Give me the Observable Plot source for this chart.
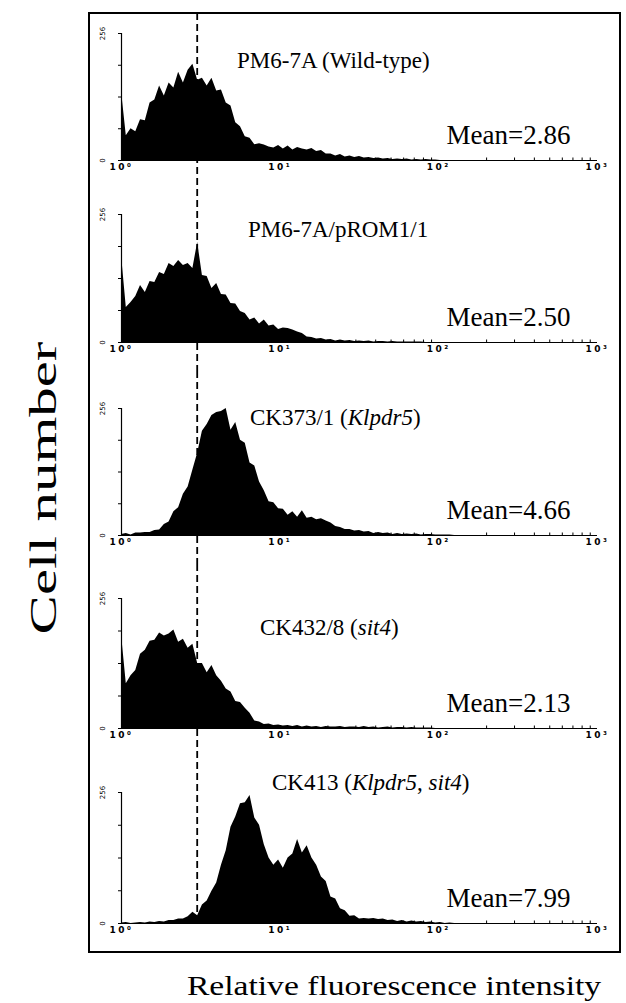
<!DOCTYPE html>
<html>
<head>
<meta charset="utf-8">
<script src="https://cdn.jsdelivr.net/npm/d3@7"></script>
<script src="https://cdn.jsdelivr.net/npm/@observablehq/plot@0.6"></script>
<style>
html, body { margin: 0; padding: 0; background: #fff; }
#wrap { position: relative; width: 626px; height: 1003px; overflow: hidden; font-family: "Liberation Serif", "Times New Roman", serif; color: #000; }
.panel { position: absolute; left: 0; }
.box { position: absolute; left: 88px; top: 12px; width: 533px; height: 941px; border: 2px solid #000; box-sizing: border-box; pointer-events: none; }
.title { position: absolute; font-size: 23px; line-height: 23px; white-space: nowrap; }
.ylabel { position: absolute; left: 43px; top: 488px; font-size: 38px; line-height: 38px; white-space: nowrap; transform: translate(-50%, -50%) rotate(-90deg) scaleX(1.55); }
.xlabel { position: absolute; left: 394px; top: 972px; font-size: 28px; line-height: 28px; white-space: nowrap; transform: translateX(-50%) scaleX(1.2); }
svg [aria-label="x-axis tick label"] text { letter-spacing: 2.5px; }
</style>
</head>
<body>
<div id="wrap"></div>
<script>
// Channel positions (relative fluorescence intensity) of the histogram bins
const channels = [1.000,1.072,1.148,1.230,1.318,1.413,1.514,1.622,1.738,1.862,
  1.995,2.138,2.291,2.455,2.630,2.818,3.020,3.236,3.467,3.715,
  3.981,4.266,4.571,4.898,5.248,5.623,6.026,6.457,6.918,7.413,
  7.943,8.511,9.120,9.772,10.47,11.22,12.02,12.88,13.80,14.79,
  15.85,16.98,18.20,19.50,20.89,22.39,23.99,25.70,27.54,29.51,
  31.62,33.88,36.31,38.90,41.69,44.67,47.86,51.29,54.95,58.88,
  63.10,67.61,72.44,77.62,83.18,89.13,95.50,102.3,109.6,117.5,125.9];

// Cell counts per channel, one array per strain
const countsWT = [140,50,64,58,82,80,116,122,150,130,
  156,146,178,156,182,194,162,166,150,166,
  140,142,116,110,76,68,48,45,32,34,
  31,27,25,30,23,29,21,26,23,21,
  24,18,20,13,13,9,12,7,9,6,
  8,5,6,4,5,3,4,2,3,2,
  3,1,2,1,2,1,1,0,0,0,0];
const countsPROM = [175,70,80,92,114,100,122,120,140,136,
  158,152,164,154,158,148,200,134,132,108,
  118,96,95,78,77,62,58,45,49,37,
  45,33,35,26,29,28,25,21,18,11,
  10,7,8,5,6,3,5,3,4,2,
  3,2,3,1,2,2,1,2,1,1,
  1,1,1,1,0,0,0,0,0,0,0];
const countsCK373 = [2,4,1,5,5,6,6,10,11,22,
  27,48,56,83,98,132,166,210,224,242,
  248,250,256,212,228,192,186,146,140,108,
  90,68,66,54,53,41,48,37,50,35,
  37,32,34,29,25,18,16,12,12,9,
  10,7,8,4,6,4,5,2,4,2,
  3,2,3,1,2,2,1,1,1,1,0];
const countsCK432 = [185,88,104,114,146,154,172,174,188,182,
  186,194,170,176,158,166,128,128,110,124,
  104,93,78,72,53,51,40,30,15,13,
  8,9,6,7,5,6,4,6,3,5,
  3,4,2,4,3,3,4,2,3,3,
  2,4,2,3,1,2,3,1,2,2,
  1,2,1,1,1,1,0,0,0,0,0];
const countsCK413 = [1,2,0,1,2,1,3,2,4,3,
  6,6,9,9,13,22,15,36,44,63,
  79,114,142,188,208,234,236,250,206,192,
  154,128,114,124,108,128,136,164,138,152,
  128,114,91,82,52,48,29,25,14,15,
  9,10,9,10,8,9,6,7,4,6,
  3,5,3,4,2,3,1,2,0,1,0];

const titles = ["PM6-7A (Wild-type)", "PM6-7A/pROM1/1", "CK373/1 (<i>Klpdr5</i>)", "CK432/8 (<i>sit4</i>)", "CK413 (<i>Klpdr5</i>, <i>sit4</i>)"];
const means = ["2.86", "2.50", "4.66", "2.13", "7.99"];
const threshold = 3;
const xTicks = [1, 10, 100, 1000];
const xTickLabels = ["10⁰", "10¹", "10²", "10³"];
const minorTicks = [2,3,4,5,6,7,8,9,20,30,40,50,60,70,80,90,200,300,400,500,600,700,800,900];
const yTicks = [0, 64, 128, 192, 256];
const yTickLabels = ["0", "", "", "", "256"];

const series = [countsWT, countsPROM, countsCK373, countsCK432, countsCK413];

// Page layout of the five stacked panels (pixels)
const layout = [
  {top: 12,  height: 173, mt: 21, mb: 25, tx: 237, tb: 68},
  {top: 185, height: 187, mt: 29, mb: 30, tx: 248, tb: 237},
  {top: 372, height: 193, mt: 36, mb: 30, tx: 250, tb: 425},
  {top: 565, height: 193, mt: 33, mb: 30, tx: 260, tb: 635},
  {top: 758, height: 195, mt: 34, mb: 30, tx: 272, tb: 790}
];

const wrap = document.getElementById("wrap");

series.forEach((counts, i) => {
  const L = layout[i];
  const data = channels.map((x, j) => ({x, y: counts[j]}));
  const upp = 256 / (L.height - L.mt - L.mb);
  const last = i === series.length - 1;
  const chart = Plot.plot({
    width: 626,
    height: L.height,
    marginLeft: 121,
    marginRight: 29,
    marginTop: L.mt,
    marginBottom: L.mb,
    style: {background: "none", overflow: "visible"},
    x: {type: "log", domain: [1, 1000], axis: null},
    y: {domain: [0, 256], axis: null},
    marks: [
      Plot.ruleX([threshold], {y1: last ? 0 : -L.mb * upp, y2: 256 + L.mt * upp, stroke: "#000", strokeWidth: 1.8, strokeDasharray: "7,4"}),
      Plot.areaY(data, {x: "x", y: "y", curve: "linear", fill: "#000"}),
      Plot.ruleY([0], {stroke: "#000", strokeWidth: 1.2}),
      Plot.ruleX([1], {y1: 0, y2: 256, stroke: "#000", strokeWidth: 1.2}),
      Plot.ruleX(minorTicks, {y1: 0, y2: 2.5 * upp, stroke: "#000", strokeWidth: 1}),
      Plot.axisX({ticks: xTicks, tickFormat: d => xTickLabels[xTicks.indexOf(d)], tickSize: 0, tickPadding: 3, fontSize: 9, fontWeight: "bold", fontFamily: "DejaVu Sans", label: null}),
      Plot.axisY({ticks: yTicks, tickFormat: d => yTickLabels[yTicks.indexOf(d)], tickSize: 3, tickPadding: 14, tickRotate: -90, fontSize: 7, fontFamily: "DejaVu Sans", label: null}),
      Plot.text(["Mean=" + means[i]], {frameAnchor: "bottom-right", dx: -27, dy: -17, textAnchor: "end", lineAnchor: "bottom", fontSize: 27, fontFamily: "Liberation Serif", fill: "#000"})
    ]
  });
  chart.classList.add("panel");
  chart.style.top = L.top + "px";
  wrap.appendChild(chart);

  const t = document.createElement("div");
  t.className = "title";
  t.innerHTML = titles[i];
  t.style.left = L.tx + "px";
  t.style.top = (L.tb - 19) + "px";
  wrap.appendChild(t);
});

const box = document.createElement("div");
box.className = "box";
wrap.appendChild(box);

const yl = document.createElement("div");
yl.className = "ylabel";
yl.textContent = "Cell number";
wrap.appendChild(yl);

const xl = document.createElement("div");
xl.className = "xlabel";
xl.textContent = "Relative fluorescence intensity";
wrap.appendChild(xl);
</script>
</body>
</html>
